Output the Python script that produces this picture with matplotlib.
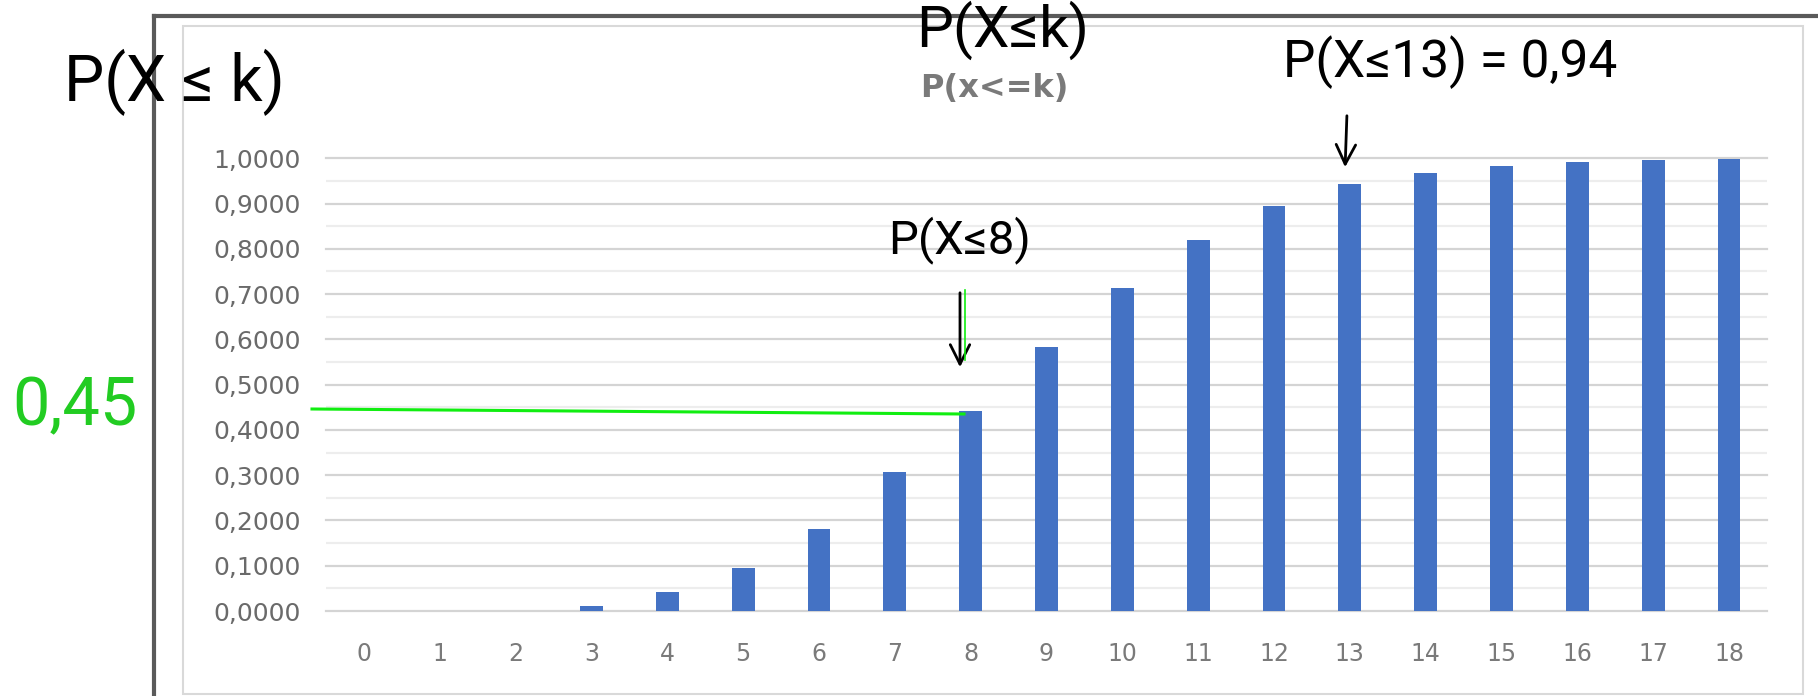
import matplotlib
matplotlib.use('Agg')
import matplotlib.pyplot as plt
from matplotlib.lines import Line2D
from matplotlib.patches import Rectangle
from matplotlib.ticker import FuncFormatter, MultipleLocator

# data
k_values = list(range(19))
cdf_values = [0.0000, 0.0001, 0.0006, 0.011, 0.042, 0.094, 0.182, 0.306, 0.441,
              0.584, 0.714, 0.820, 0.895, 0.943, 0.967, 0.984, 0.991, 0.997, 0.998]
y_ticks = [i / 10 for i in range(11)]
chart_title = 'P(x<=k)'

W, H = 1818, 696
fig = plt.figure(figsize=(W / 100, H / 100), dpi=100)


def fx(x):
    return x / W


def fy(y):
    return 1 - y / H


hand = ['Roboto', 'DejaVu Sans']

# screenshot frame
fig.add_artist(Rectangle((fx(183), fy(694)), (1803 - 183) / W, (694 - 26) / H,
                         fill=False, edgecolor='#d9d9d9', lw=1.5,
                         transform=fig.transFigure))
fig.add_artist(Line2D([fx(154), 1], [fy(16), fy(16)], transform=fig.transFigure,
                      color='#5a5a5a', lw=3))
fig.add_artist(Line2D([fx(154), fx(154)], [fy(16), 0], transform=fig.transFigure,
                      color='#5a5a5a', lw=3))

ax = fig.add_axes([fx(326), fy(611), (1767 - 326) / W, (611 - 158.3) / H])
ax.bar(k_values, cdf_values, width=0.30, color='#4472C4', zorder=3)
ax.set_xlim(-0.5, 18.5)
ax.set_ylim(0, 1.0)
ax.set_xticks(k_values)
ax.set_xticklabels([str(k) for k in k_values])
ax.set_yticks(y_ticks)
ax.yaxis.set_minor_locator(MultipleLocator(0.05))
ax.yaxis.set_major_formatter(FuncFormatter(lambda v, p: f'{v:.4f}'.replace('.', ',')))
ax.grid(axis='y', which='major', color='#d4d4d4', lw=1.6, zorder=0)
ax.grid(axis='y', which='minor', color='#ededed', lw=1.6, zorder=0)
for line in ax.get_ygridlines():
    line.set_clip_on(False)
ax.tick_params(which='both', length=0)
ax.tick_params(axis='y', labelsize=18, labelcolor='#6a6a6a', pad=18)
ax.tick_params(axis='x', labelsize=17, labelcolor='#7a7a7a', pad=22)
for s in ax.spines.values():
    s.set_visible(False)

fig.text(fx(994), fy(89), chart_title, ha='center', va='center',
         fontsize=23, color='#7a7a7a', weight='bold')

# handwritten notes
fig.text(fx(174), fy(82), 'P(X ≤ k)', ha='center', va='center',
         fontsize=46, color='black', family=hand)
fig.text(fx(1003), fy(1), 'P(X≤k)', ha='center', va='top',
         fontsize=42, color='black', family=hand)
fig.text(fx(1283), fy(62), 'P(X≤13) = 0,94', ha='left', va='center',
         fontsize=37, color='black', family=hand)
fig.text(fx(888), fy(240), 'P(X≤8)', ha='left', va='center',
         fontsize=34, color='black', family=hand)
fig.text(fx(12), fy(407), '0,45', ha='left', va='center',
         fontsize=48, color='#22cc22', family=hand)

arrow = dict(arrowstyle='->', lw=2, color='black', mutation_scale=35)
ax.annotate('', xy=(1345, H - 170), xycoords='figure pixels',
            xytext=(1347, H - 113), textcoords='figure pixels', arrowprops=arrow)
ax.annotate('', xy=(960, H - 370), xycoords='figure pixels',
            xytext=(960, H - 290), textcoords='figure pixels', arrowprops=arrow)

# green reading line to the bar at k = 8
fig.add_artist(Line2D([fx(312), fx(964)], [fy(409), fy(414)], transform=fig.transFigure,
                      color='#11ee11', lw=2.2))
fig.add_artist(Line2D([fx(965), fx(965)], [fy(290), fy(360)], transform=fig.transFigure,
                      color='#11ee11', lw=1.2))

fig.savefig('out.png', dpi=100)
